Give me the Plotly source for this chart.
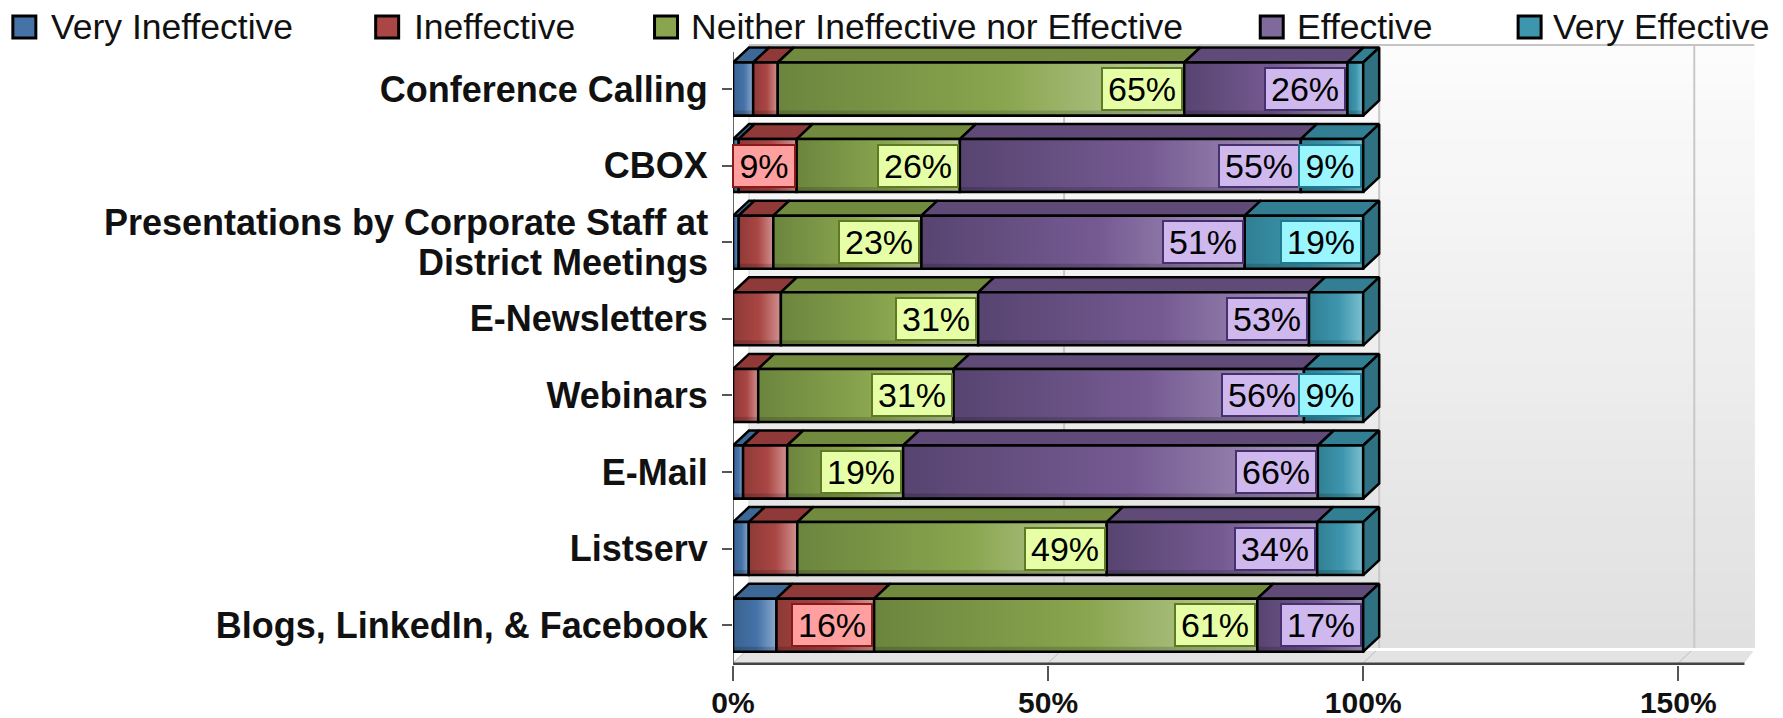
import plotly.graph_objects as go

categories = ["Conference Calling", "CBOX", "Presentations by Corporate Staff at|District Meetings",
              "E-Newsletters", "Webinars", "E-Mail", "Listserv", "Blogs, LinkedIn, &amp; Facebook"]
series_names = ["Very Ineffective", "Ineffective", "Neither Ineffective nor Effective", "Effective", "Very Effective"]
very_ineffective = [3.2, 0.9, 0.9, 0, 0, 1.6, 2.5, 6.9]
ineffective = [3.9, 9.2, 5.5, 7.6, 4.0, 7.0, 7.7, 15.5]
neither = [64.5, 25.9, 23.5, 31.3, 31.0, 18.4, 49.1, 60.8]
effective = [25.9, 54.1, 51.3, 52.5, 55.6, 65.8, 33.4, 16.8]
very_effective = [2.5, 9.9, 18.8, 8.6, 9.4, 7.2, 7.3, 0]
labels = [["", "", "65%", "26%", ""], ["", "9%", "26%", "55%", "9%"], ["", "", "23%", "51%", "19%"],
          ["", "", "31%", "53%", ""], ["", "", "31%", "56%", "9%"], ["", "", "19%", "66%", ""],
          ["", "", "49%", "34%", ""], ["", "16%", "61%", "17%", ""]]
x_ticks = [0, 50, 100, 150]
x_ticktext = ["0%", "50%", "100%", "150%"]

base_colors = ["#4572A7", "#AA4643", "#89A54E", "#755a92", "#3D96AE"]
dark_colors = ["#3a6290", "#8e3a38", "#6c853e", "#574470", "#307f93"]
top_colors = ["#3d6795", "#8f3a38", "#718a3e", "#5f4a78", "#327f94"]
light_colors = ["#8aa9cf", "#d09290", "#bccd9c", "#a797bd", "#7cbfd0"]
badge_fill = ["#a8d0ff", "#ff9f9f", "#e6ffa6", "#cfb8ee", "#99f6ff"]
badge_line = ["#2a5a90", "#8a1a1a", "#5f7a22", "#47306e", "#1f7a90"]

W, H = 1783, 718
L, R, T, B = 732.5, 1760, 44, 665
PX_X = 6.305
PX_Y = 76.6
XMAX = (R - L) / PX_X
Y0 = 89
DX = 16 / PX_X
DY = 15 / PX_Y
BAR_H = 53 / PX_Y
ymax = (B - Y0) / PX_Y
ymin = (T - Y0) / PX_Y
px_to_y = lambda p: (p - Y0) / PX_Y
paper_x = lambda p: (p - L) / (R - L)
paper_y = lambda p: (B - p) / (B - T)

rows = list(range(len(categories)))
values = [very_ineffective, ineffective, neither, effective, very_effective]
LW = 2.5

fig = go.Figure()

for s, name in enumerate(series_names):
    fig.add_trace(go.Bar(y=rows, x=values[s], name=name, orientation="h", width=BAR_H,
                         marker=dict(color=base_colors[s], line=dict(color="black", width=2)),
                         showlegend=False, hoverinfo="skip"))

annotations = []
for r in rows:
    top, bot = r - BAR_H / 2, r + BAR_H / 2
    cum = 0
    for s in range(5):
        v = values[s][r]
        if v <= 0:
            continue
        a, b = cum, cum + v
        cum = b
        fig.add_trace(go.Scatter(x=[a, b, b + DX, a + DX, a], y=[top, top, top - DY, top - DY, top],
                                 mode="lines", fill="toself", fillcolor=top_colors[s],
                                 line=dict(color="black", width=LW), showlegend=False, hoverinfo="skip"))
        fig.add_trace(go.Scatter(x=[a, b, b, a, a], y=[top, top, bot, bot, top], mode="lines", fill="toself",
                                 fillgradient=dict(type="horizontal",
                                                   colorscale=[[0, dark_colors[s]], [0.55, base_colors[s]], [1, light_colors[s]]]),
                                 line=dict(color="black", width=LW), showlegend=False, hoverinfo="skip"))
        hb = 5 / PX_Y
        fig.add_trace(go.Scatter(x=[a, b, b, a, a], y=[bot - hb, bot - hb, bot, bot, bot - hb], mode="lines",
                                 fill="toself", fillcolor="rgba(0,0,0,0.16)", line=dict(width=0),
                                 showlegend=False, hoverinfo="skip"))
        txt = labels[r][s]
        if txt:
            annotations.append(dict(x=b, y=r, xref="x", yref="y", text=txt, showarrow=False, xanchor="right",
                                    xshift=-1, width=60 if len(txt) == 2 else 78, height=40, align="center",
                                    bgcolor=badge_fill[s], bordercolor=badge_line[s], borderwidth=2, borderpad=0,
                                    font=dict(family="Liberation Sans", size=34, color="black")))
    fig.add_trace(go.Scatter(x=[100, 100 + DX, 100 + DX, 100, 100], y=[top, top - DY, bot - DY, bot, top],
                             mode="lines", fill="toself", fillcolor="#2f7083",
                             line=dict(color="black", width=LW), showlegend=False, hoverinfo="skip"))

shapes = []
wall_top, wall_bot = px_to_y(45), px_to_y(648)
steps = 32
for i in range(steps):
    g = round(252 - (252 - 224) * i / (steps - 1))
    shapes.append(dict(type="rect", xref="x", yref="y", x0=DX, x1=XMAX - 0.9,
                       y0=wall_top + (wall_bot - wall_top) * i / steps, y1=wall_bot,
                       fillcolor=f"rgb({g},{g},{g})", line=dict(width=0), layer="below"))
shapes.append(dict(type="line", xref="x", yref="y", x0=DX, x1=XMAX - 0.9, y0=wall_top, y1=wall_top,
                   line=dict(color="#c4c4c4", width=2), layer="below"))
shapes.append(dict(type="line", xref="x", yref="y", x0=DX, x1=DX, y0=wall_top, y1=wall_bot,
                   line=dict(color="#d8d8d8", width=1), layer="below"))
f_b, f_t = px_to_y(663), px_to_y(651)
fdx = DX * 12 / 15
shapes.append(dict(type="path", xref="x", yref="y",
                   path=f"M0,{f_b} L160.5,{f_b} L{160.5 + 1.43},{f_t} L{fdx},{f_t} Z",
                   fillcolor="#e3e3e3", line=dict(width=0), layer="below"))
for t in x_ticks[1:]:
    shapes.append(dict(type="line", xref="x", yref="y", x0=t + DX, x1=t + DX, y0=wall_top, y1=wall_bot,
                       line=dict(color="#c8c8c8", width=2), layer="below"))
    shapes.append(dict(type="line", xref="x", yref="y", x0=t, x1=t + fdx, y0=f_b, y1=f_t,
                       line=dict(color="#bdbdbd", width=1), layer="below"))
shapes.append(dict(type="line", xref="x", yref="y", x0=0, x1=fdx, y0=f_b, y1=f_t,
                   line=dict(color="#bdbdbd", width=1), layer="below"))
shapes.append(dict(type="line", xref="x", yref="y", x0=0, x1=160.5, y0=ymax - 1 / PX_Y, y1=ymax - 1 / PX_Y,
                   line=dict(color="#444444", width=3)))
shapes.append(dict(type="line", xref="x", yref="y", x0=0, x1=0, y0=px_to_y(52), y1=ymax,
                   line=dict(color="#666666", width=2), layer="below"))

swatch_x = [12, 375, 654, 1260, 1518]
text_x = [48, 411, 688, 1295, 1551]
for s, name in enumerate(series_names):
    shapes.append(dict(type="rect", xref="paper", yref="paper", x0=paper_x(swatch_x[s]), x1=paper_x(swatch_x[s] + 23),
                       y0=paper_y(38), y1=paper_y(16), fillcolor=base_colors[s] if s != 3 else "#80699B",
                       line=dict(color="black", width=3)))
    annotations.append(dict(x=paper_x(text_x[s]), y=paper_y(27), xref="paper", yref="paper", text=name,
                            showarrow=False, xanchor="left", yanchor="middle",
                            font=dict(family="Liberation Sans", size=35.5, color="#111111")))

TICK_FONT = dict(family="Liberation Sans", size=36, color="#111111", weight="bold")
ticktext = []
for r, c in enumerate(categories):
    if "|" in c:
        ticktext.append(" ")
        for part, off in zip(c.split("|"), (-20 / PX_Y, 20 / PX_Y)):
            annotations.append(dict(x=paper_x(709), y=r + off, xref="paper", yref="y", text=part, showarrow=False,
                                    xanchor="right", yanchor="middle", font=TICK_FONT))
    else:
        ticktext.append(c)

fig.update_layout(
    width=W, height=H, barmode="stack", bargap=0,
    margin=dict(l=L, r=W - R, t=T, b=H - B, pad=0, autoexpand=False),
    paper_bgcolor="white", plot_bgcolor="white", showlegend=False,
    shapes=shapes, annotations=annotations,
    xaxis=dict(range=[0, XMAX], tickvals=x_ticks, ticktext=x_ticktext, showgrid=False, zeroline=False,
               automargin=False, ticks="outside", ticklen=15, tickwidth=1.5, tickcolor="#555555", showline=False,
               ticklabelstandoff=-4,
               tickfont=dict(family="Liberation Sans", size=30, color="#111111", weight="bold")),
    yaxis=dict(range=[ymax, ymin], tickvals=rows, ticktext=ticktext, showgrid=False, zeroline=False,
               automargin=False, ticks="outside", ticklen=10, tickwidth=1.5, tickcolor="#555555", showline=False,
               ticklabelstandoff=7, tickfont=TICK_FONT),
)
fig.write_html("out.html", config=dict(displayModeBar=False), post_script="document.body.style.margin='0';")
